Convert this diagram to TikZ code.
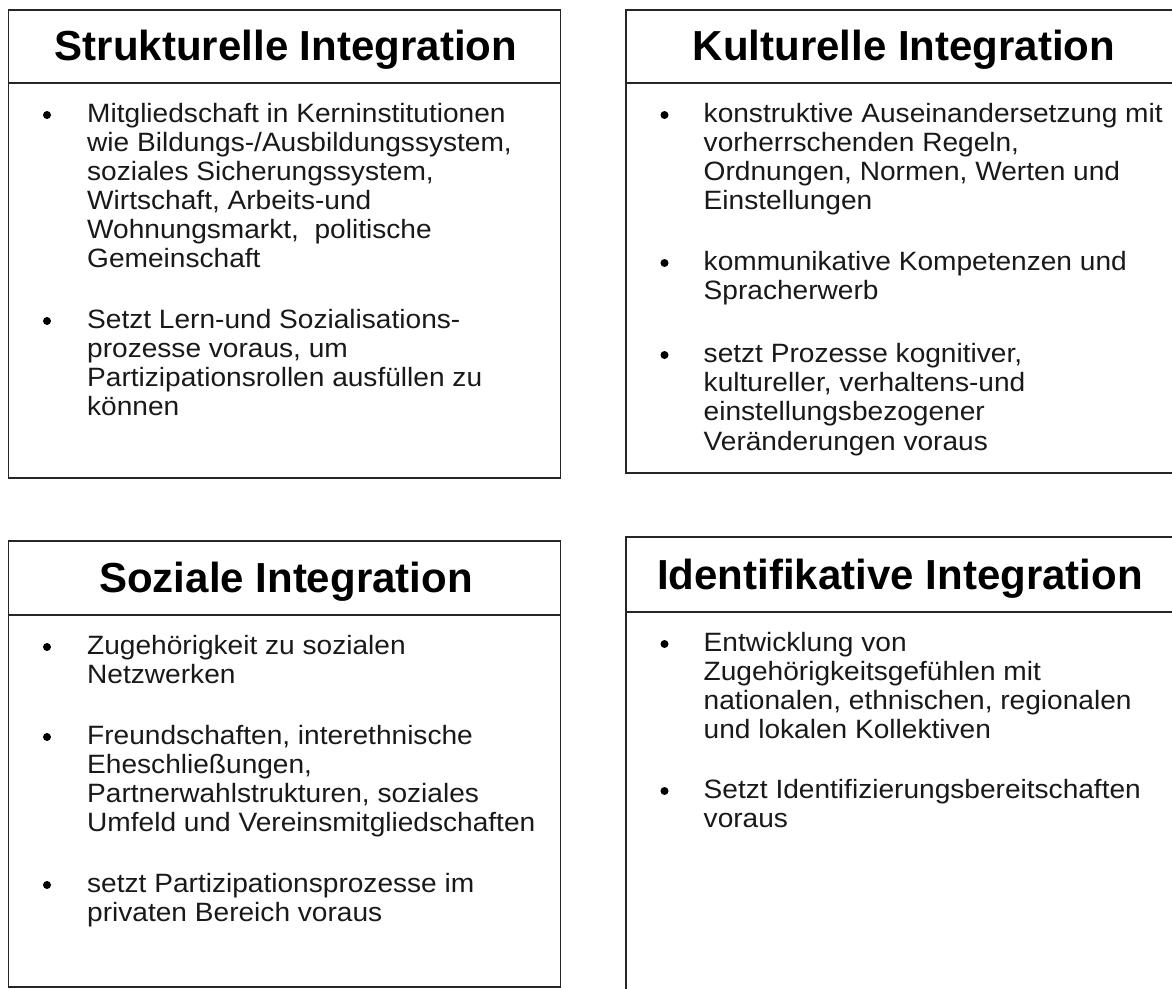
\documentclass[tikz,border=0pt]{standalone}
\usepackage{fontspec}
\setmainfont{Liberation Sans}
\newfontfamily\bodyfont{Liberation Sans}[FakeStretch=1.06]
\newcommand\bodyline[4]{\node[body] (#1) at (#2,#3) {#4};}
\newcommand\bulletdot[3]{\node[bul] (#1) at (#2,#3-7) {};}
\begin{document}
\begin{tikzpicture}[x=1pt,y=-1pt,
  boxline/.style={line width=1.6pt, draw=black!85},
  panel/.style={boxline, rectangle, inner sep=0pt, outer sep=0pt},
  body/.style={anchor=base west, inner sep=0pt, font=\bodyfont\fontsize{26.5}{30}\selectfont, text=black!90},
  title/.style={anchor=base, inner sep=0pt, font=\fontsize{42}{48}\selectfont\bfseries, text=black},
  bul/.style={circle, fill=black, inner sep=0pt, minimum size=8pt}]
\useasboundingbox (0,0) rectangle (1172,988);
\clip (0,0) rectangle (1172,988);
\fill[white] (0,0) rectangle (1172,988);

% ---------- panels ----------
\node[panel, minimum width=552pt, minimum height=468pt] (A) at (284.5,244) {};
\draw[boxline] (8.5,83) -- (560.5,83);
\node[panel, minimum width=552pt, minimum height=463pt] (B) at (902,241.5) {};
\draw[boxline] (626,83) -- (1178,83);
\node[panel, minimum width=552pt, minimum height=446pt] (C) at (284.5,764) {};
\draw[boxline] (8.5,615) -- (560.5,615);
\node[panel, minimum width=552pt, minimum height=458pt] (D) at (902,766) {};
\draw[boxline] (626,612) -- (1178,612);

% ---------- titles ----------
\node[title] (At) at (286,60) {Strukturelle Integration};
\node[title] (Bt) at (904,60) {Kulturelle Integration};
\node[title] (Ct) at (286,592) {Soziale Integration};
\node[title] (Dt) at (900,589) {Identifikative Integration};

% ---------- Strukturelle ----------
\bulletdot{Ab1}{47}{122}
\bodyline{A1}{87}{122}{Mitgliedschaft in Kerninstitutionen}
\bodyline{A2}{87}{151}{wie Bildungs-/Ausbildungssystem,}
\bodyline{A3}{87}{180}{soziales Sicherungssystem,}
\bodyline{A4}{87}{209}{Wirtschaft, Arbeits-und}
\bodyline{A5}{87}{238}{Wohnungsmarkt, \ politische}
\bodyline{A6}{87}{267}{Gemeinschaft}
\bulletdot{Ab2}{47}{328}
\bodyline{A7}{87}{328}{Setzt Lern-und Sozialisations-}
\bodyline{A8}{87}{357}{prozesse voraus, um}
\bodyline{A9}{87}{386}{Partizipationsrollen ausfüllen zu}
\bodyline{A10}{87}{415}{können}

% ---------- Kulturelle ----------
\bulletdot{Bb1}{664.5}{122}
\bodyline{B1}{703.5}{122}{konstruktive Auseinandersetzung mit}
\bodyline{B2}{703.5}{151.3}{vorherrschenden Regeln,}
\bodyline{B3}{703.5}{180.6}{Ordnungen, Normen, Werten und}
\bodyline{B4}{703.5}{209.9}{Einstellungen}
\bulletdot{Bb2}{664.5}{270}
\bodyline{B5}{703.5}{270}{kommunikative Kompetenzen und}
\bodyline{B6}{703.5}{299.3}{Spracherwerb}
\bulletdot{Bb3}{664.5}{362}
\bodyline{B7}{703.5}{362}{setzt Prozesse kognitiver,}
\bodyline{B8}{703.5}{391.3}{kultureller, verhaltens-und}
\bodyline{B9}{703.5}{420.6}{einstellungsbezogener}
\bodyline{B10}{703.5}{450}{Veränderungen voraus}

% ---------- Soziale ----------
\bulletdot{Cb1}{47}{654}
\bodyline{C1}{87}{654}{Zugehörigkeit zu sozialen}
\bodyline{C2}{87}{683}{Netzwerken}
\bulletdot{Cb2}{47}{744}
\bodyline{C3}{87}{744}{Freundschaften, interethnische}
\bodyline{C4}{87}{773}{Eheschließungen,}
\bodyline{C5}{87}{802}{Partnerwahlstrukturen, soziales}
\bodyline{C6}{87}{831}{Umfeld und Vereinsmitgliedschaften}
\bulletdot{Cb3}{47}{892}
\bodyline{C7}{87}{892}{setzt Partizipationsprozesse im}
\bodyline{C8}{87}{921}{privaten Bereich voraus}

% ---------- Identifikative ----------
\bulletdot{Db1}{664.5}{651}
\bodyline{D1}{703.5}{651}{Entwicklung von}
\bodyline{D2}{703.5}{680}{Zugehörigkeitsgefühlen mit}
\bodyline{D3}{703.5}{709}{nationalen, ethnischen, regionalen}
\bodyline{D4}{703.5}{738}{und lokalen Kollektiven}
\bulletdot{Db2}{664.5}{798}
\bodyline{D5}{703.5}{798}{Setzt Identifizierungsbereitschaften}
\bodyline{D6}{703.5}{827}{voraus}
\end{tikzpicture}
\end{document}
